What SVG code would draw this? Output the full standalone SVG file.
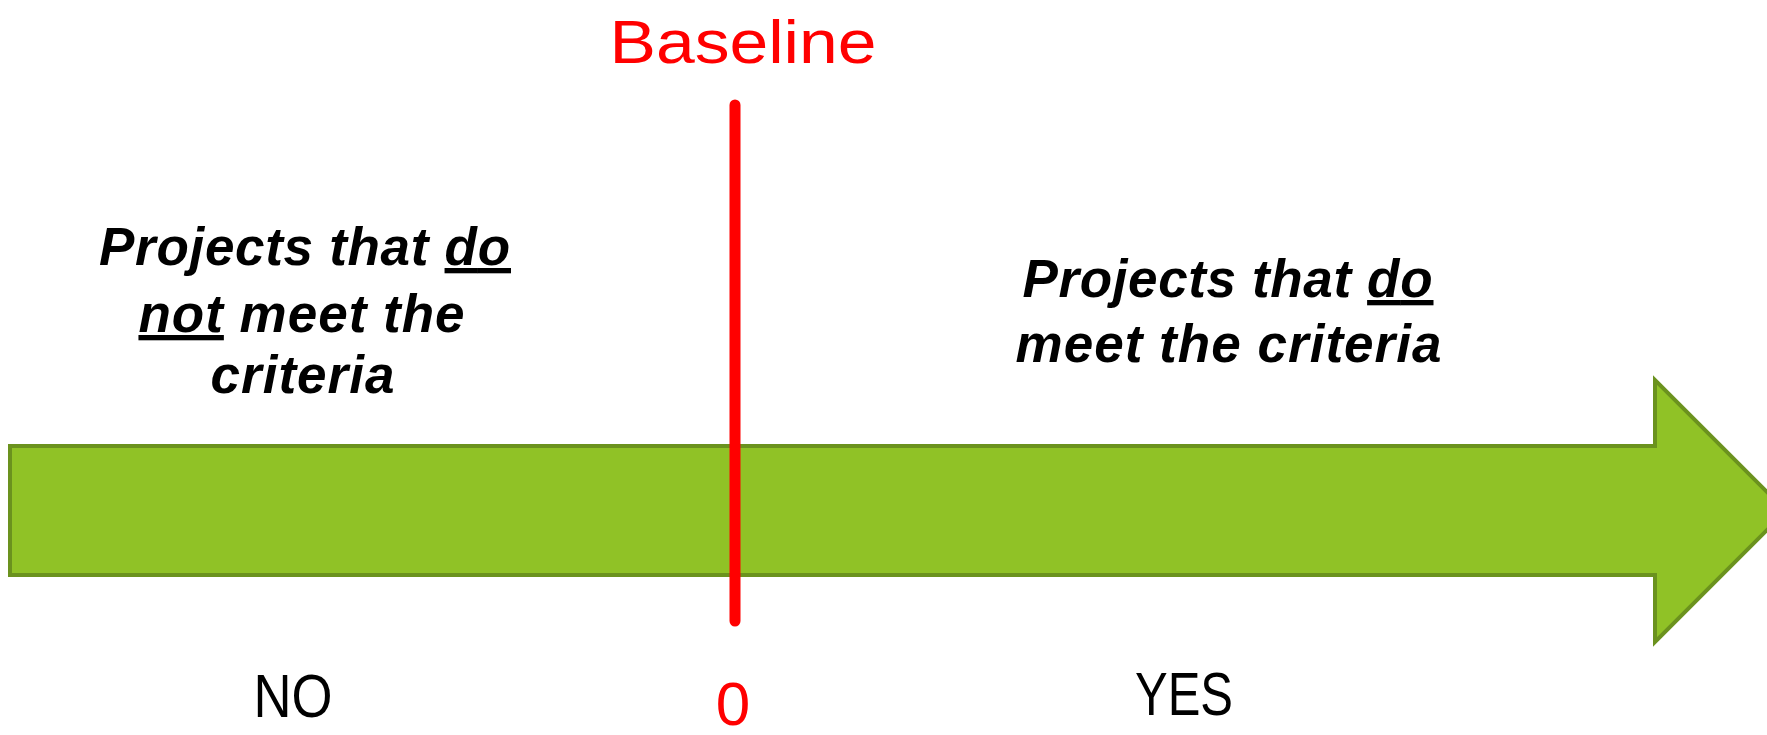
<svg xmlns="http://www.w3.org/2000/svg" width="1767" height="735" viewBox="0 0 1767 735">
<style>
.lbl{font-family:"Liberation Sans",Arial,sans-serif;font-weight:bold;font-style:italic;font-size:53px;letter-spacing:1px;fill:#000;text-anchor:middle}
.ax{font-family:"Liberation Sans",Arial,sans-serif;font-size:62px;fill:#000;text-anchor:middle}
.red{fill:#ff0000}
</style>
<rect width="1767" height="735" fill="#fff"/>
<g id="arrow">
<polygon points="10,446 1655,446 1655,380 1786,511 1655,642 1655,575 10,575" fill="#90c226" stroke="#6b921e" stroke-width="4" stroke-linejoin="miter"/>
</g>
<g id="baseline-line">
<line x1="735" y1="105" x2="735" y2="621" stroke="#ff0000" stroke-width="11" stroke-linecap="round"/>
</g>
<g id="baseline-label">
<text class="ax red" x="743" y="63" font-size="76" textLength="267" lengthAdjust="spacingAndGlyphs">Baseline</text>
</g>
<g id="left-text">
<text class="lbl" x="305" y="265" textLength="412" lengthAdjust="spacing">Projects that <tspan text-decoration="underline">do</tspan></text>
<text class="lbl" x="302" y="332"><tspan text-decoration="underline">not</tspan> meet the</text>
<text class="lbl" x="303" y="393">criteria</text>
</g>
<g id="right-text">
<text class="lbl" x="1228" y="297" textLength="411" lengthAdjust="spacing">Projects that <tspan text-decoration="underline">do</tspan></text>
<text class="lbl" x="1229" y="362" textLength="427" lengthAdjust="spacing">meet the criteria</text>
</g>
<g id="ticks">
<text class="ax" x="293" y="717" textLength="79" lengthAdjust="spacingAndGlyphs">NO</text>
<text class="ax red" x="733" y="725">0</text>
<text class="ax" x="1184" y="715" font-size="65" textLength="98" lengthAdjust="spacingAndGlyphs">YES</text>
</g>
</svg>
